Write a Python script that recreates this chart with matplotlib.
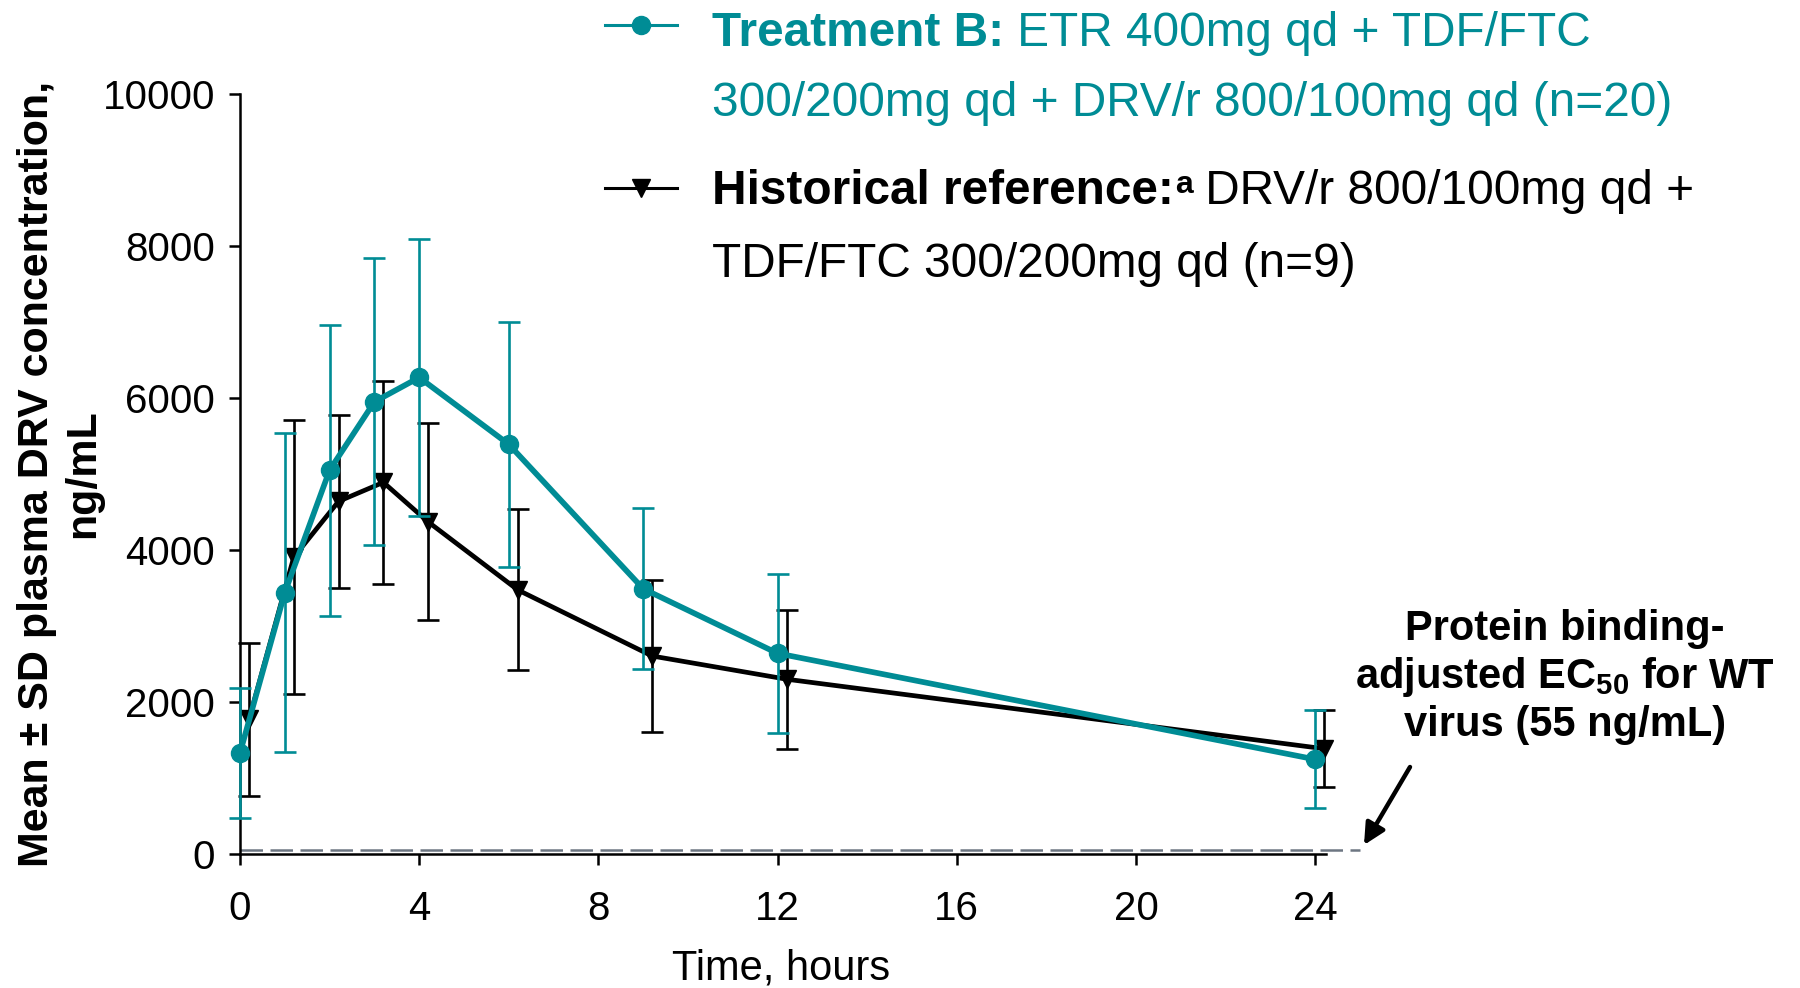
import matplotlib
matplotlib.use('Agg')
import matplotlib.pyplot as plt
from matplotlib.lines import Line2D

plt.rcParams['font.family'] = ['Liberation Sans', 'DejaVu Sans']
plt.rcParams['mathtext.fontset'] = 'custom'
plt.rcParams['mathtext.rm'] = 'Liberation Sans'
plt.rcParams['mathtext.bf'] = 'Liberation Sans:bold'

# data (ng/mL)
times = [0, 1, 2, 3, 4, 6, 9, 12, 24]
trt_b_mean = [1330, 3440, 5050, 5950, 6270, 5390, 3490, 2640, 1245]
trt_b_sd = [860, 2095, 1915, 1890, 1825, 1610, 1060, 1050, 645]
hist_mean = [1770, 3905, 4640, 4890, 4370, 3475, 2605, 2300, 1385]
hist_sd = [1005, 1800, 1140, 1340, 1295, 1060, 1000, 915, 505]
hist_offset = 0.2   # historical points shifted right so the bars don't overlap
ec50 = 55

xticks = [0, 4, 8, 12, 16, 20, 24]
yticks = [0, 2000, 4000, 6000, 8000, 10000]

TEAL = '#008C95'
W, H = 1800, 988


def fx(px):
    return px / W


def fy(py):
    return 1 - py / H


fig = plt.figure(figsize=(W / 100, H / 100), dpi=100)
ax = fig.add_axes([fx(240), fy(854), 25 * 44.8 / W, 760 / H])

ax.axhline(ec50, color='#6d7682', lw=1.8, dashes=(9, 3), zorder=1, clip_on=False)

hist = ax.errorbar([t + hist_offset for t in times], hist_mean, yerr=hist_sd,
                   color='black', lw=3.4, marker='v', ms=13,
                   elinewidth=1.9, capsize=8, capthick=1.9, zorder=3)
trt = ax.errorbar(times, trt_b_mean, yerr=trt_b_sd,
                  color=TEAL, lw=4.1, marker='o', ms=13,
                  elinewidth=1.9, capsize=8, capthick=1.9, zorder=4)
for cont in (hist, trt):
    for art in cont.get_children():
        art.set_clip_on(False)

ax.set_xlim(0, 25)
ax.set_ylim(0, 10000)
ax.set_xticks(xticks)
ax.set_yticks(yticks)
for s in ('top', 'right'):
    ax.spines[s].set_visible(False)
for s in ('left', 'bottom'):
    ax.spines[s].set_linewidth(1.8)
ax.spines['bottom'].set_bounds(0, 24.25)
ax.tick_params(direction='out', length=8, width=1.8, labelsize=29)
ax.tick_params(axis='x', pad=18)
ax.tick_params(axis='y', pad=10)

fig.text(fx(781), fy(968), 'Time, hours', fontsize=30, ha='center', va='center')
fig.text(fx(60), fy(474), 'Mean \u00b1 SD plasma DRV concentration,\nng/mL',
         fontsize=31, fontweight='bold', rotation=90, ha='center', va='center',
         multialignment='center', linespacing=1.2)

# legend, drawn by hand because of the mixed bold / coloured text
fig.add_artist(Line2D([fx(605), fx(677)], [fy(25), fy(25)], color=TEAL, lw=2.2))
fig.add_artist(Line2D([fx(641)], [fy(25)], color=TEAL, marker='o', ms=13, lw=0))
fig.add_artist(Line2D([fx(605), fx(677)], [fy(188), fy(188)], color='black', lw=2.2))
fig.add_artist(Line2D([fx(641)], [fy(188)], color='black', marker='v', ms=13, lw=0))

fs = 34.4
t1 = fig.text(fx(712), fy(46), 'Treatment B:', fontsize=fs, fontweight='bold',
              color=TEAL, va='baseline')
ax.annotate(' ETR 400mg qd + TDF/FTC', xy=(1, 0), xycoords=t1, fontsize=fs,
            color=TEAL, va='bottom', annotation_clip=False)
fig.text(fx(712), fy(116), '300/200mg qd + DRV/r 800/100mg qd (n=20)', fontsize=fs,
         color=TEAL, va='baseline')
t3 = fig.text(fx(712), fy(204), 'Historical reference:', fontsize=fs,
              fontweight='bold', color='black', va='baseline')
ax.annotate('a', xy=(1, 1), xycoords=t3, xytext=(1, -1), textcoords='offset points',
            fontsize=23, fontweight='bold', va='top', annotation_clip=False)
ax.annotate(' DRV/r 800/100mg qd +', xy=(1, 0), xycoords=t3, xytext=(13, 0),
            textcoords='offset points', fontsize=fs, va='bottom', annotation_clip=False)
fig.text(fx(712), fy(277), 'TDF/FTC 300/200mg qd (n=9)', fontsize=fs, va='baseline')

fig.text(fx(1565), fy(677), 'Protein binding-\nadjusted EC$_{\\mathbf{50}}$ for WT\nvirus (55 ng/mL)',
         fontsize=30, fontweight='bold', ha='center', va='center',
         multialignment='center', linespacing=1.2)
ax.annotate('', xy=(fx(1364), fy(845)), xycoords='figure fraction',
            xytext=(fx(1410), fy(767)), textcoords='figure fraction',
            arrowprops=dict(arrowstyle='-|>', lw=3.2, color='black', mutation_scale=32,
                            shrinkA=0, shrinkB=0),
            annotation_clip=False)

fig.savefig('out.png', dpi=100)
